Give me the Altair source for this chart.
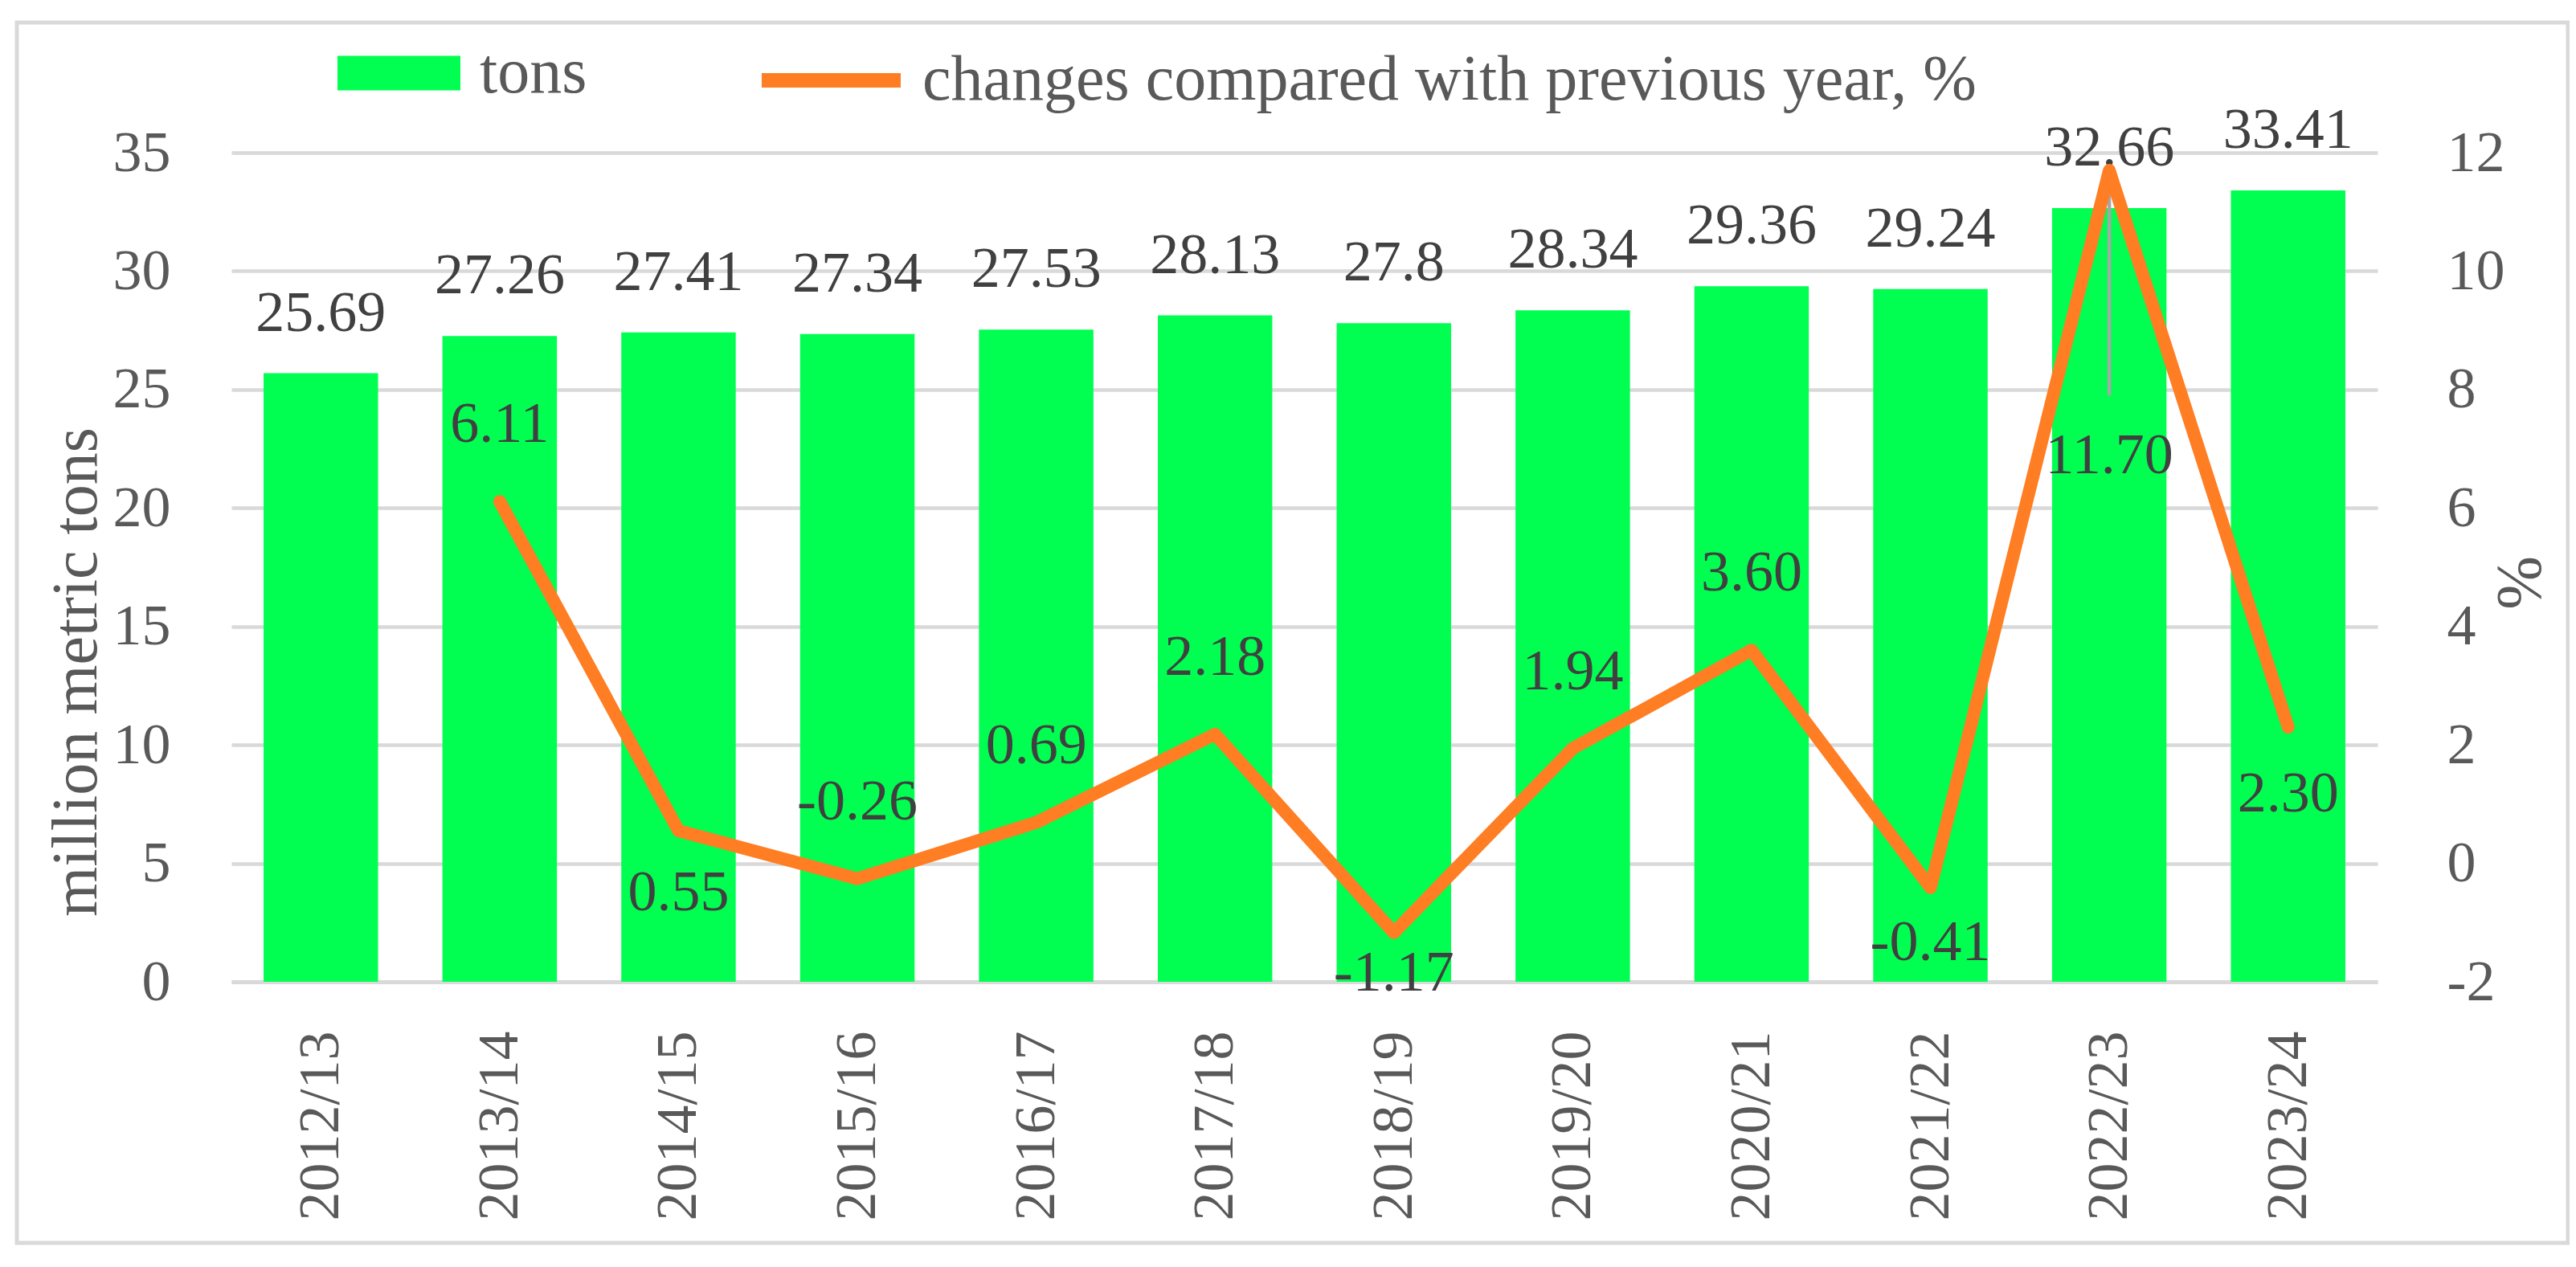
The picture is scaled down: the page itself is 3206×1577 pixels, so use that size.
import altair as alt
import pandas as pd

seasons = ["2012/13", "2013/14", "2014/15", "2015/16", "2016/17", "2017/18",
           "2018/19", "2019/20", "2020/21", "2021/22", "2022/23", "2023/24"]
tons = [25.69, 27.26, 27.41, 27.34, 27.53, 28.13, 27.8, 28.34, 29.36, 29.24, 32.66, 33.41]
pct = [None, 6.11, 0.55, -0.26, 0.69, 2.18, -1.17, 1.94, 3.60, -0.41, 11.70, 2.30]

bar_series = "tons"
line_series = "changes compared with previous year, %"

df = pd.DataFrame({
    "season": seasons,
    "tons": tons,
    "pct": pct,
    "pct_label": [("" if v is None else f"{v:.2f}") for v in pct],
    "bar_series": bar_series,
    "line_series": line_series,
})

FONT = "Liberation Serif"
GREEN = "#00FF50"
ORANGE = "#FF7D23"
GRID = "#D9D9D9"
TICK = "#595959"
LABEL = "#404040"

W, H = 2671, 1032

x_enc = alt.X("season:N", sort=seasons,
              scale=alt.Scale(paddingInner=0.36, paddingOuter=0.18),
              axis=alt.Axis(title=None, labelAngle=270, labelAlign="right",
                            labelBaseline="middle", labelPadding=61, labelLimit=0,
                            labelFontSize=72, labelFont=FONT, labelColor=TICK,
                            ticks=False, domain=True, domainColor=GRID,
                            domainWidth=5, grid=False))

y_left = alt.Y("tons:Q", scale=alt.Scale(domain=[0, 35], nice=False),
               axis=alt.Axis(orient="left", values=[0, 5, 10, 15, 20, 25, 30, 35],
                             title="million metric tons", titleFont=FONT,
                             titleFontSize=80, titleFontWeight="normal",
                             titleColor=TICK, titleAngle=270, titleX=-193,
                             titleY=646, titleAlign="center", titleBaseline="middle",
                             titleLimit=0, labelLimit=0,
                             labelFontSize=72, labelFont=FONT, labelColor=TICK,
                             labelPadding=76, ticks=False, domain=False,
                             grid=True, gridColor=GRID, gridWidth=4.5))

y_right = alt.Y("pct:Q", scale=alt.Scale(domain=[-2, 12], nice=False),
                axis=alt.Axis(orient="right", values=[-2, 0, 2, 4, 6, 8, 10, 12],
                              labelExpr="'' + datum.value",
                              title="%", titleFont=FONT, titleFontSize=80,
                              titleFontWeight="normal", titleColor=TICK,
                              titleAngle=270, titleX=178, titleY=535,
                              titleAlign="center", titleBaseline="middle",
                              titleLimit=0, labelLimit=0,
                              labelFontSize=72, labelFont=FONT, labelColor=TICK,
                              labelPadding=86, ticks=False, domain=False,
                              grid=False))

base = alt.Chart(df)

bars = base.mark_bar().encode(
    x=x_enc,
    y=y_left,
    fill=alt.Fill("bar_series:N", scale=alt.Scale(domain=[bar_series], range=[GREEN]),
                  legend=alt.Legend(title=None, orient="none", legendX=132, legendY=-175.5,
                                    symbolType="M-1,-0.28H1V0.28H-1Z", symbolSize=23409,
                                    symbolStrokeWidth=0, labelFont=FONT, labelFontSize=80,
                                    labelColor=TICK, labelOffset=24, labelLimit=0)),
)

bar_text = base.mark_text(font=FONT, fontSize=72, color=LABEL, baseline="alphabetic",
                          dy=-53).encode(x=x_enc, y=y_left, text=alt.Text("tons:Q"))

bar_group = alt.layer(bars, bar_text)

valid = base.transform_filter("isValid(datum.pct)")

line = valid.mark_line(strokeWidth=16, strokeCap="round", strokeJoin="round").encode(
    x=x_enc,
    y=y_right,
    stroke=alt.Stroke("line_series:N", scale=alt.Scale(domain=[line_series], range=[ORANGE]),
                      legend=alt.Legend(title=None, orient="none", legendX=651, legendY=-185.5,
                                        symbolType="stroke", symbolSize=29929,
                                        symbolStrokeWidth=18, labelFont=FONT,
                                        labelFontSize=80, labelColor=TICK, labelOffset=18,
                                        labelLimit=0)),
)

leader = valid.transform_filter(alt.FieldOneOfPredicate(field="season", oneOf=["2022/23"])) \
    .transform_calculate(pct2="datum.pct") \
    .mark_rule(color="#A6A6A6", strokeWidth=4.5, y2Offset=280).encode(
        x=x_enc, y=y_right, y2="pct2:Q")

# label placement (offset from the point, in px) per group of seasons
label_groups = [
    (["2013/14", "2015/16", "2016/17", "2017/18", "2019/20", "2020/21"], -96),
    (["2014/15"], 77),
    (["2018/19"], 50),
    (["2021/22"], 68),
    (["2023/24"], 83),
    (["2022/23"], 355),
]

pct_texts = []
for group, off in label_groups:
    pct_texts.append(
        valid.transform_filter(alt.FieldOneOfPredicate(field="season", oneOf=group))
        .mark_text(font=FONT, fontSize=72, color=LABEL, baseline="middle", dy=off)
        .encode(x=x_enc, y=y_right, text="pct_label:N")
    )

line_group = alt.layer(leader, line, *pct_texts)

frame = alt.Chart(pd.DataFrame({"k": [0]})).mark_rect(
    fillOpacity=0, stroke=GRID, strokeWidth=5).encode(
    x=alt.value(-267), x2=alt.value(2908), y=alt.value(-162), y2=alt.value(1357))

chart = alt.layer(bar_group, line_group, frame).resolve_scale(
    y="independent"
).properties(
    width=W, height=H,
    autosize=alt.AutoSizeParams(type="none"),
    padding={"left": 280, "top": 182, "right": 239, "bottom": 347},
    background="white",
).configure_view(strokeWidth=0)

chart.save("out.html", embed_options={"renderer": "svg", "actions": False})
